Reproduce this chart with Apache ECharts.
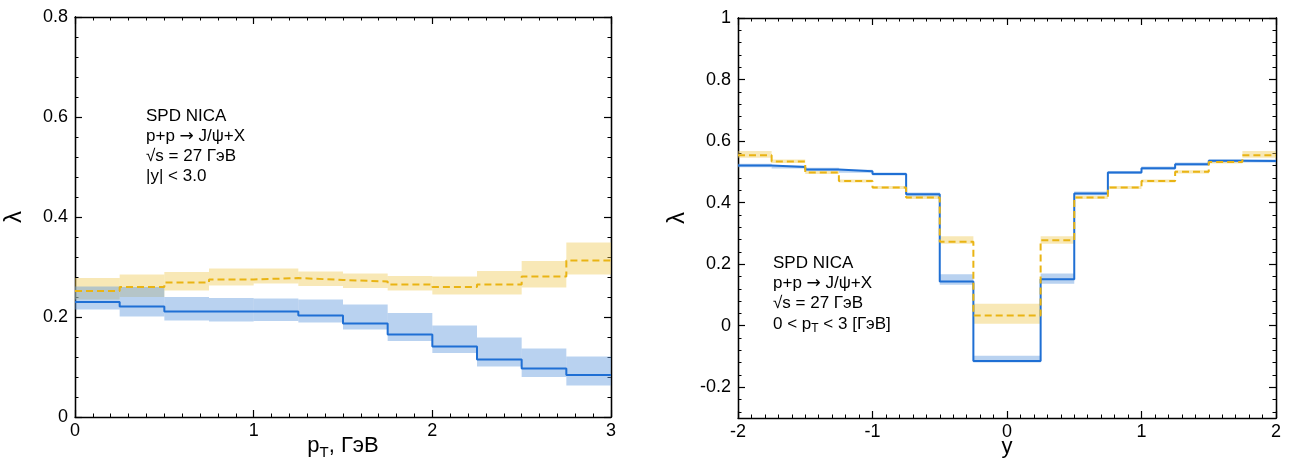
<!DOCTYPE html>
<html>
<head>
<meta charset="utf-8">
<script src="https://cdn.jsdelivr.net/npm/echarts@6/dist/echarts.min.js"></script>
<style>
html,body{margin:0;padding:0;background:#fff;}
#c{width:1293px;height:460px;}
</style>
</head>
<body>
<div id="c"></div>
<script>
// ---------- data: left panel (lambda vs pT) ----------
const ptEdges = [0, 0.25, 0.5, 0.75, 1, 1.25, 1.5, 1.75, 2, 2.25, 2.5, 2.75, 3];
const blueL    = [0.230, 0.221, 0.211, 0.211, 0.211, 0.203, 0.187, 0.165, 0.141, 0.115, 0.097, 0.084];
const blueLlo  = [0.215, 0.201, 0.193, 0.191, 0.192, 0.189, 0.175, 0.152, 0.128, 0.101, 0.080, 0.063];
const blueLhi  = [0.261, 0.260, 0.240, 0.238, 0.237, 0.235, 0.225, 0.208, 0.183, 0.159, 0.137, 0.121];
const yellowL   = [0.252, 0.260, 0.269, 0.275, 0.278, 0.274, 0.271, 0.265, 0.260, 0.265, 0.281, 0.313];
const yellowLlo = [0.235, 0.240, 0.253, 0.263, 0.267, 0.262, 0.258, 0.253, 0.245, 0.245, 0.259, 0.285];
const yellowLhi = [0.278, 0.285, 0.290, 0.297, 0.297, 0.291, 0.287, 0.282, 0.281, 0.292, 0.312, 0.349];

// ---------- data: right panel (lambda vs y) ----------
const yEdges = [-2, -1.75, -1.5, -1.25, -1, -0.75, -0.5, -0.25, 0, 0.25, 0.5, 0.75, 1, 1.25, 1.5, 1.75, 2];
const blueR    = [0.521, 0.516, 0.508, 0.502, 0.493, 0.427, 0.144, -0.115, -0.115, 0.151, 0.430, 0.498, 0.512, 0.525, 0.536, 0.535];
const blueRlo  = [0.515, 0.511, 0.503, 0.497, 0.488, 0.421, 0.133, -0.120, -0.120, 0.136, 0.424, 0.493, 0.507, 0.520, 0.531, 0.530];
const blueRhi  = [0.526, 0.521, 0.513, 0.507, 0.498, 0.433, 0.167, -0.098, -0.098, 0.170, 0.436, 0.503, 0.517, 0.530, 0.541, 0.540];
const yellowR   = [0.554, 0.534, 0.498, 0.470, 0.449, 0.417, 0.273, 0.033, 0.033, 0.278, 0.417, 0.449, 0.470, 0.500, 0.532, 0.554];
const yellowRlo = [0.546, 0.529, 0.493, 0.465, 0.444, 0.412, 0.266, 0.006, 0.006, 0.266, 0.412, 0.444, 0.465, 0.495, 0.527, 0.546];
const yellowRhi = [0.568, 0.540, 0.503, 0.475, 0.454, 0.422, 0.291, 0.071, 0.071, 0.291, 0.422, 0.454, 0.475, 0.505, 0.537, 0.568];

// ---------- tick labels ----------
const xTicksL = [0, 1, 2, 3];
const yTicksL = [0, 0.2, 0.4, 0.6, 0.8];
const xTicksR = [-2, -1, 0, 1, 2];
const yTicksR = [-0.2, 0, 0.2, 0.4, 0.6, 0.8, 1];

const annL = ['SPD NICA', 'p+p {ar|→} J/ψ+X', '√s = 27 ГэВ', '|y| < 3.0'];
const annR = ['SPD NICA', 'p+p {ar|→} J/ψ+X', '√s = 27 ГэВ', '0 < p{s|T} < 3 [ГэВ]'];

// ---------- helpers ----------
const FONT = '"Liberation Sans", Arial, Helvetica, sans-serif';
const BLUE = '#1f6fd4';
const BLUE_BAND = 'rgba(100,155,222,0.45)';
const YEL = '#e9b414';
const YEL_BAND = 'rgba(238,200,80,0.42)';

function stepData(edges, vals) {
  const d = vals.map((v, i) => [edges[i], v]);
  d.push([edges[edges.length - 1], vals[vals.length - 1]]);
  return d;
}
function bandData(edges, lo, hi) {
  return lo.map((l, i) => [edges[i], edges[i + 1], l, hi[i]]);
}
function bandSeries(xi, yi, data, color) {
  return {
    type: 'custom', xAxisIndex: xi, yAxisIndex: yi, data: data, silent: true,
    encode: { x: [0, 1], y: [2, 3] }, clip: true, z: 1,
    renderItem: function (params, api) {
      const a = api.coord([api.value(0), api.value(3)]);
      const b = api.coord([api.value(1), api.value(2)]);
      return { type: 'rect', shape: { x: a[0], y: a[1], width: b[0] - a[0], height: b[1] - a[1] },
               style: { fill: color } };
    }
  };
}
function lineSeries(xi, yi, data, color, dashed) {
  return {
    type: 'line', xAxisIndex: xi, yAxisIndex: yi, data: data, step: 'end',
    symbol: 'none', silent: true, z: dashed ? 4 : 3, clip: true,
    lineStyle: { color: color, width: 2, type: dashed ? [7, 4] : 'solid' }
  };
}
const rnd = v => Math.round(v * 1000) / 1000;
function range(a, b, s) { const r = []; for (let v = a; v <= b + 1e-9; v += s) r.push(rnd(v)); return r; }

const axisLineStyle = { show: true, lineStyle: { color: '#000', width: 1.3 }, onZero: false };
const labelStyle = { color: '#000', fontSize: 18, fontFamily: FONT };
const nameStyleBase = { color: '#000', fontSize: 22, fontFamily: FONT };

function xMain(grid, min, max, ticks, name) {
  return {
    type: 'value', gridIndex: grid, min: min, max: max, interval: 1, position: 'bottom',
    axisLine: axisLineStyle,
    axisTick: { inside: true, length: 7, lineStyle: { color: '#000', width: 1.2 } },
    minorTick: { show: true, splitNumber: 10, length: 3.5, lineStyle: { color: '#000', width: 1 } },
    axisLabel: { margin: 5, ...labelStyle, formatter: v => String(v) },
    splitLine: { show: false },
    name: name, nameLocation: 'middle', nameGap: 18, nameMoveOverlap: false,
    nameTextStyle: {
      ...nameStyleBase,
      rich: {
        a: { fontSize: 22, fontFamily: FONT, color: '#000', verticalAlign: 'top', lineHeight: 24 },
        s: { fontSize: 15, fontFamily: FONT, color: '#000', verticalAlign: 'top', lineHeight: 17, padding: [10, 0, 0, 0] }
      }
    }
  };
}
function xMirror(grid, min, max) {
  return {
    type: 'value', gridIndex: grid, min: min, max: max, interval: 1, position: 'top',
    axisLine: axisLineStyle,
    axisTick: { inside: true, length: 7, lineStyle: { color: '#000', width: 1.2 } },
    minorTick: { show: true, splitNumber: 10, length: 3.5, lineStyle: { color: '#000', width: 1 } },
    axisLabel: { show: false }, splitLine: { show: false }
  };
}
function yAxisCustom(grid, min, max, pos, majors, showLabels, len, withName) {
  const ax = {
    type: 'value', gridIndex: grid, min: min, max: max, position: pos,
    axisLine: axisLineStyle,
    axisTick: { inside: true, length: len, customValues: majors, lineStyle: { color: '#000', width: len > 5 ? 1.2 : 1 } },
    axisLabel: { show: showLabels, customValues: majors, margin: 7, ...labelStyle, formatter: v => String(rnd(v)) },
    splitLine: { show: false }
  };
  if (withName) {
    ax.name = 'λ'; ax.nameLocation = 'middle'; ax.nameRotate = 90; ax.nameGap = 49; ax.nameMoveOverlap = false;
    ax.nameTextStyle = { ...nameStyleBase, fontSize: 24 };
  }
  return ax;
}

const minorL = range(0, 0.8, 0.04);
const minorR = range(-0.28, 1, 0.04);

const grids = [
  { left: 75, right: 682, top: 17, bottom: 43, outerBoundsMode: 'none', containLabel: false },
  { left: 738, right: 17, top: 18, bottom: 42, outerBoundsMode: 'none', containLabel: false }
];

const xAxes = [
  xMain(0, 0, 3, xTicksL, '{a|p}{s|T}{a|, ГэВ}'),
  xMirror(0, 0, 3),
  xMain(1, -2, 2, xTicksR, '{a|y}'),
  xMirror(1, -2, 2)
];
const yAxes = [
  yAxisCustom(0, 0, 0.8, 'left', yTicksL, true, 7, true),
  yAxisCustom(0, 0, 0.8, 'right', yTicksL, false, 7, false),
  yAxisCustom(0, 0, 0.8, 'left', minorL, false, 3.5, false),
  yAxisCustom(0, 0, 0.8, 'right', minorL, false, 3.5, false),
  yAxisCustom(1, -0.3, 1, 'left', yTicksR, true, 7, true),
  yAxisCustom(1, -0.3, 1, 'right', yTicksR, false, 7, false),
  yAxisCustom(1, -0.3, 1, 'left', minorR, false, 3.5, false),
  yAxisCustom(1, -0.3, 1, 'right', minorR, false, 3.5, false)
];

const series = [
  bandSeries(0, 0, bandData(ptEdges, yellowLlo, yellowLhi), YEL_BAND),
  bandSeries(0, 0, bandData(ptEdges, blueLlo, blueLhi), BLUE_BAND),
  lineSeries(0, 0, stepData(ptEdges, blueL), BLUE, false),
  lineSeries(0, 0, stepData(ptEdges, yellowL), YEL, true),
  bandSeries(2, 4, bandData(yEdges, yellowRlo, yellowRhi), YEL_BAND),
  bandSeries(2, 4, bandData(yEdges, blueRlo, blueRhi), BLUE_BAND),
  lineSeries(2, 4, stepData(yEdges, blueR), BLUE, false),
  lineSeries(2, 4, stepData(yEdges, yellowR), YEL, true)
];

function annotation(lines, x, y0, dy) {
  return lines.map((t, i) => ({
    type: 'text', x: x, y: y0 + i * dy, z: 10, silent: true,
    style: {
      text: t, fill: '#000', font: '17px ' + FONT, verticalAlign: 'middle',
      rich: {
        s: { fontSize: 12, fontFamily: FONT, fill: '#000', padding: [9, 0, 0, 0] },
        ar: { fontSize: 17, fontFamily: '"DejaVu Sans", sans-serif', fill: '#000' }
      }
    }
  }));
}

const chart = echarts.init(document.getElementById('c'), null, { renderer: 'canvas' });
chart.setOption({
  animation: false,
  backgroundColor: '#fff',
  grid: grids,
  xAxis: xAxes,
  yAxis: yAxes,
  series: series,
  graphic: annotation(annL, 146, 116, 20.2).concat(annotation(annR, 773, 263, 20.4))
});
</script>
</body>
</html>
